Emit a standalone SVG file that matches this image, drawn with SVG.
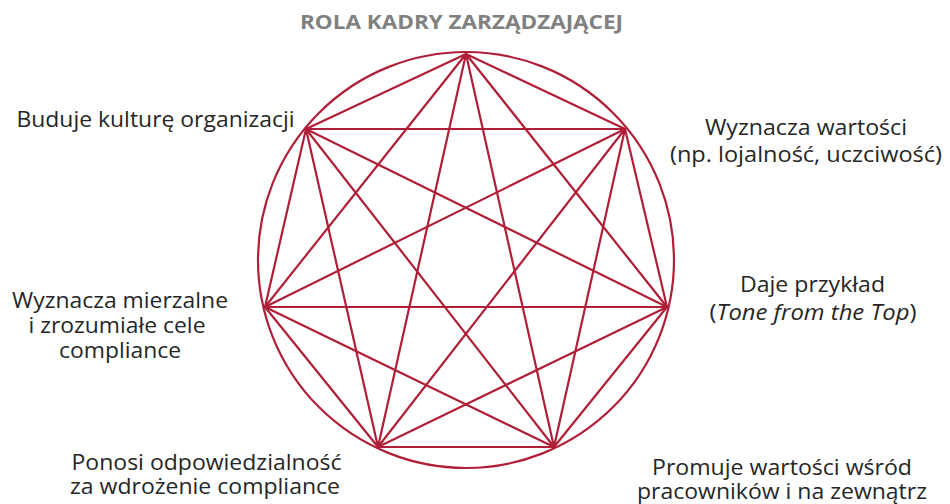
<svg xmlns="http://www.w3.org/2000/svg" width="950" height="504" viewBox="0 0 950 504">
<style>
.lbl{font-family:"Open Sans","Liberation Sans",sans-serif;font-size:21px;fill:#262626;text-anchor:middle}
.title{font-family:"Open Sans","Liberation Sans",sans-serif;font-size:20px;font-weight:bold;fill:#808080;text-anchor:middle}
.edge{stroke:#b01f37;stroke-width:2.2;fill:none;stroke-linecap:round}
</style>
<rect width="950" height="504" fill="#ffffff"/>
<text class="title" x="461.5" y="29" textLength="323" lengthAdjust="spacingAndGlyphs">ROLA KADRY ZARZĄDZAJĄCEJ</text>
<circle cx="466" cy="260" r="208" class="edge"/>
<g id="connectors" class="edge">
<path d="M466 54 L625 129 M466 54 L667 307 M466 54 L554 447 M466 54 L378 447 M466 54 L265 307 M466 54 L306 129"/>
<path d="M625 129 L667 307 M625 129 L554 447 M625 129 L378 447 M625 129 L265 307 M625 129 L306 129"/>
<path d="M667 307 L554 447 M667 307 L378 447 M667 307 L265 307 M667 307 L306 129"/>
<path d="M554 447 L378 447 M554 447 L265 307 M554 447 L306 129"/>
<path d="M378 447 L265 307 M378 447 L306 129"/>
<path d="M265 307 L306 129"/>
</g>
<g id="node-top"><circle cx="466" cy="54" r="1" fill="#b01f37"/></g>
<g id="node-values">
<text class="lbl" x="806" y="135" textLength="202" lengthAdjust="spacingAndGlyphs">Wyznacza wartości</text>
<text class="lbl" x="806" y="162" textLength="272" lengthAdjust="spacingAndGlyphs">(np. lojalność, uczciwość)</text>
</g>
<g id="node-example">
<text class="lbl" x="812.5" y="292" textLength="145" lengthAdjust="spacingAndGlyphs">Daje przykład</text>
<text class="lbl" x="813" y="320" textLength="207" lengthAdjust="spacingAndGlyphs">(<tspan font-style="italic">Tone from the Top</tspan>)</text>
</g>
<g id="node-promote">
<text class="lbl" x="782" y="475" textLength="260" lengthAdjust="spacingAndGlyphs">Promuje wartości wśród</text>
<text class="lbl" x="782" y="499" textLength="290" lengthAdjust="spacingAndGlyphs">pracowników i na zewnątrz</text>
</g>
<g id="node-responsible">
<text class="lbl" x="206.5" y="470" textLength="270" lengthAdjust="spacingAndGlyphs">Ponosi odpowiedzialność</text>
<text class="lbl" x="205" y="494" textLength="270" lengthAdjust="spacingAndGlyphs">za wdrożenie compliance</text>
</g>
<g id="node-goals">
<text class="lbl" x="120" y="308" textLength="216" lengthAdjust="spacingAndGlyphs">Wyznacza mierzalne</text>
<text class="lbl" x="117" y="333" textLength="177" lengthAdjust="spacingAndGlyphs">i zrozumiałe cele</text>
<text class="lbl" x="120" y="358" textLength="122" lengthAdjust="spacingAndGlyphs">compliance</text>
</g>
<g id="node-culture">
<text class="lbl" x="155.5" y="127" textLength="278" lengthAdjust="spacingAndGlyphs">Buduje kulturę organizacji</text>
</g>
</svg>
